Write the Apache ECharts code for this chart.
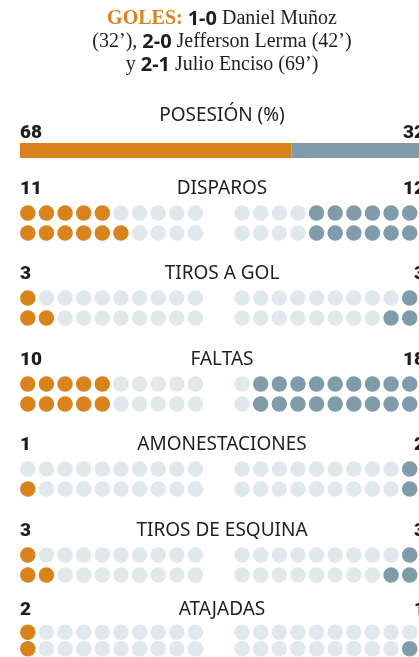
<!DOCTYPE html>
<html>
<head>
<meta charset="utf-8">
<script src="https://cdn.jsdelivr.net/npm/echarts@6/dist/echarts.min.js"></script>
<style>
  html, body { margin: 0; padding: 0; background: #fff; overflow: hidden; }
  #chart { width: 419px; height: 657px; }
</style>
</head>
<body>
<div id="chart"></div>
<script>
// datos del partido
const goalLines = [
  '{g|GOLES:} {b|1-0} Daniel Muñoz',
  '(32’), {b|2-0} Jefferson Lerma (42’)',
  'y {b|2-1} Julio Enciso (69’)'
];
const possessionLabel = 'POSESIÓN (%)';
const possession = [68, 32];
const statNames = ['DISPAROS', 'TIROS A GOL', 'FALTAS', 'AMONESTACIONES', 'TIROS DE ESQUINA', 'ATAJADAS'];
const homeValues = [11, 3, 10, 1, 3, 2];
const awayValues = [12, 3, 18, 2, 3, 1];

const ORANGE = '#d9831d';
const BLUE = '#809ba9';
const EMPTY = '#e1e8ec';
const INK = '#1e1e1e';

// layout
const centerX = 222;
const sectionY = [189, 274, 360, 445, 531, 610];
const homeCols = [0, 1, 2, 3, 4, 5, 6, 7, 8, 9];
const awayCols = homeCols.map(c => c + 11.5);

const chart = echarts.init(document.getElementById('chart'));

const grids = [], xAxes = [], yAxes = [], series = [], graphics = [];

// cabecera de goles
goalLines.forEach((line, i) => {
  graphics.push({
    type: 'text', x: centerX, y: 19 + i * 23,
    style: {
      text: line, fill: INK, align: 'center', verticalAlign: 'middle',
      font: '20px "Liberation Serif"',
      rich: {
        g: { fill: ORANGE, font: 'bold 20px "Liberation Serif"' },
        b: { fill: INK, font: 'bold 20px "Noto Sans"' }
      }
    }
  });
});

function label(text, x, y, align, bold) {
  graphics.push({
    type: 'text', x: x, y: y,
    style: {
      text: text, fill: INK, align: align, verticalAlign: 'middle',
      font: bold ? '900 19px Roboto' : '19px "Noto Sans"'
    }
  });
}

// posesion
label(possessionLabel, centerX, 116, 'center', false);
label(String(possession[0]), 20, 133, 'left', true);
label(String(possession[1]), 425, 133, 'right', true);
grids.push({ left: 20, top: 143, width: 405, height: 15 });
xAxes.push({ type: 'value', gridIndex: 0, min: 0, max: 100, show: false });
yAxes.push({ type: 'category', gridIndex: 0, data: ['p'], show: false });
series.push(
  { type: 'bar', xAxisIndex: 0, yAxisIndex: 0, stack: 'pos', barWidth: 15, silent: true,
    itemStyle: { color: ORANGE }, data: [possession[0]] },
  { type: 'bar', xAxisIndex: 0, yAxisIndex: 0, stack: 'pos', barWidth: 15, silent: true,
    itemStyle: { color: BLUE }, data: [possession[1]] }
);

// estadisticas con puntos
statNames.forEach((name, i) => {
  const g = i + 1;
  const y = sectionY[i];
  label(name, centerX, y, 'center', false);
  label(String(homeValues[i]), 20, y, 'left', true);
  label(String(awayValues[i]), 425, y, 'right', true);

  grids.push({ left: 18.5, top: y + 14, width: 408.5, height: 40 });
  xAxes.push({ type: 'value', gridIndex: g, min: -0.5, max: 21, show: false });
  yAxes.push({ type: 'value', gridIndex: g, min: -0.5, max: 1.5, inverse: true, show: false });

  const empty = [], home = [], away = [];
  const h = homeValues[i], a = awayValues[i];
  const hRow = [Math.floor(h / 2), Math.ceil(h / 2)];
  const aRow = [Math.floor(a / 2), Math.ceil(a / 2)];
  [0, 1].forEach(r => {
    homeCols.forEach((c, k) => {
      (k < hRow[r] ? home : empty).push([c, r]);
    });
    awayCols.forEach((c, k) => {
      (awayCols.length - 1 - k < aRow[r] ? away : empty).push([c, r]);
    });
  });
  const base = { type: 'scatter', xAxisIndex: g, yAxisIndex: g, symbolSize: 15.5, silent: true };
  series.push(
    Object.assign({}, base, { itemStyle: { color: EMPTY, opacity: 1 }, data: empty }),
    Object.assign({}, base, { itemStyle: { color: ORANGE, opacity: 1 }, data: home }),
    Object.assign({}, base, { itemStyle: { color: BLUE, opacity: 1 }, data: away })
  );
});

chart.setOption({
  animation: false,
  grid: grids,
  xAxis: xAxes,
  yAxis: yAxes,
  series: series,
  graphic: graphics
});
</script>
</body>
</html>
